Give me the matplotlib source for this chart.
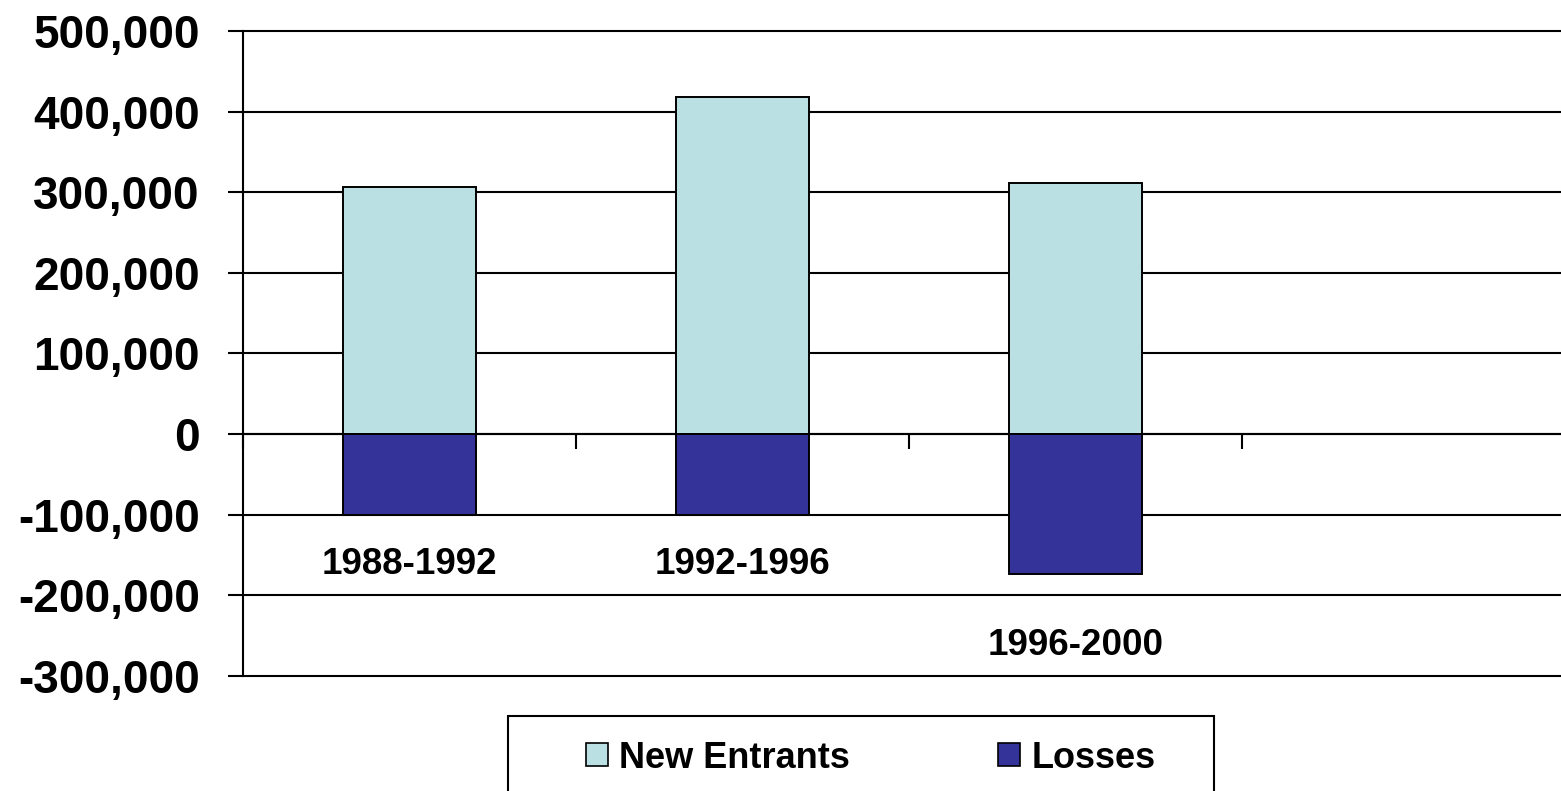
import matplotlib
matplotlib.use("Agg")
import matplotlib.pyplot as plt
from matplotlib.patches import Patch, Rectangle
from matplotlib.ticker import FuncFormatter

# data
periods = ["1988-1992", "1992-1996", "1996-2000"]
new_entrants = [307000, 418000, 312000]
losses = [-100000, -100000, -174000]
yticks = [-300000, -200000, -100000, 0, 100000, 200000, 300000, 400000, 500000]

LIGHT, DARK, INK = "#BBE0E3", "#333399", "#000000"
plt.rcParams["font.family"] = ["Liberation Sans", "DejaVu Sans"]
plt.rcParams["font.weight"] = "bold"

W, H = 1561, 791
fig = plt.figure(figsize=(W / 100, H / 100), dpi=100)
# plot area: left edge at 243px, category width 333px (4 slots, runs past the right edge)
ax = fig.add_axes([243 / W, 1 - 676 / H, 4 * 333 / W, (676 - 31) / H])

x = list(range(len(periods)))
ax.bar(x, new_entrants, width=0.4, color=LIGHT, edgecolor=INK, linewidth=1.4, zorder=3)
ax.bar(x, losses, width=0.4, color=DARK, edgecolor=INK, linewidth=1.4, zorder=3)

ax.set_xlim(-0.5, 3.5)
ax.set_ylim(yticks[0], yticks[-1])
ax.set_yticks(yticks)
ax.yaxis.set_major_formatter(FuncFormatter(lambda v, _: f"{int(v):,}"))
ax.tick_params(axis="y", direction="out", length=11, width=1.5, pad=20,
               labelsize=33, colors=INK)
ax.grid(axis="y", color=INK, linewidth=1.5, zorder=1)
ax.set_axisbelow(True)
for gl in ax.get_ygridlines():
    gl.set_clip_on(False)   # keep the edge gridlines full width

# category axis sits on zero, ticks between categories
ax.spines["bottom"].set_position(("data", 0))
ax.spines["bottom"].set_linewidth(1.5)
ax.spines["left"].set_linewidth(1.5)
ax.spines["top"].set_visible(False)
ax.spines["right"].set_visible(False)
ax.set_xticks([-0.5, 0.5, 1.5, 2.5])
ax.set_xticklabels([])
ax.tick_params(axis="x", direction="out", length=11, width=1.5)

# category labels placed below the negative bars, as in the original
label_y = [-162000, -162000, -262000]
for xi, name, ly in zip(x, periods, label_y):
    ax.text(xi, ly, name, ha="center", va="center", fontsize=26.5,
            fontweight="bold", color=INK)

# legend box
fig.patches.append(Rectangle((508 / W, 1 - 800 / H), (1214 - 508) / W, (800 - 716) / H,
                             transform=fig.transFigure, facecolor="white",
                             edgecolor=INK, linewidth=1.5, clip_on=False))
handles = [Patch(facecolor=LIGHT, edgecolor=INK, linewidth=1.2, label="New Entrants"),
           Patch(facecolor=DARK, edgecolor=INK, linewidth=1.2, label="Losses")]
fig.legend(handles=handles, ncol=2, loc="center", bbox_to_anchor=(871 / W, 1 - 758 / H),
           frameon=False, handlelength=0.6, handleheight=0.6,
           handletextpad=0.33, columnspacing=4.1, prop={"weight": "bold", "size": 26})

fig.savefig("out.png", dpi=100)
